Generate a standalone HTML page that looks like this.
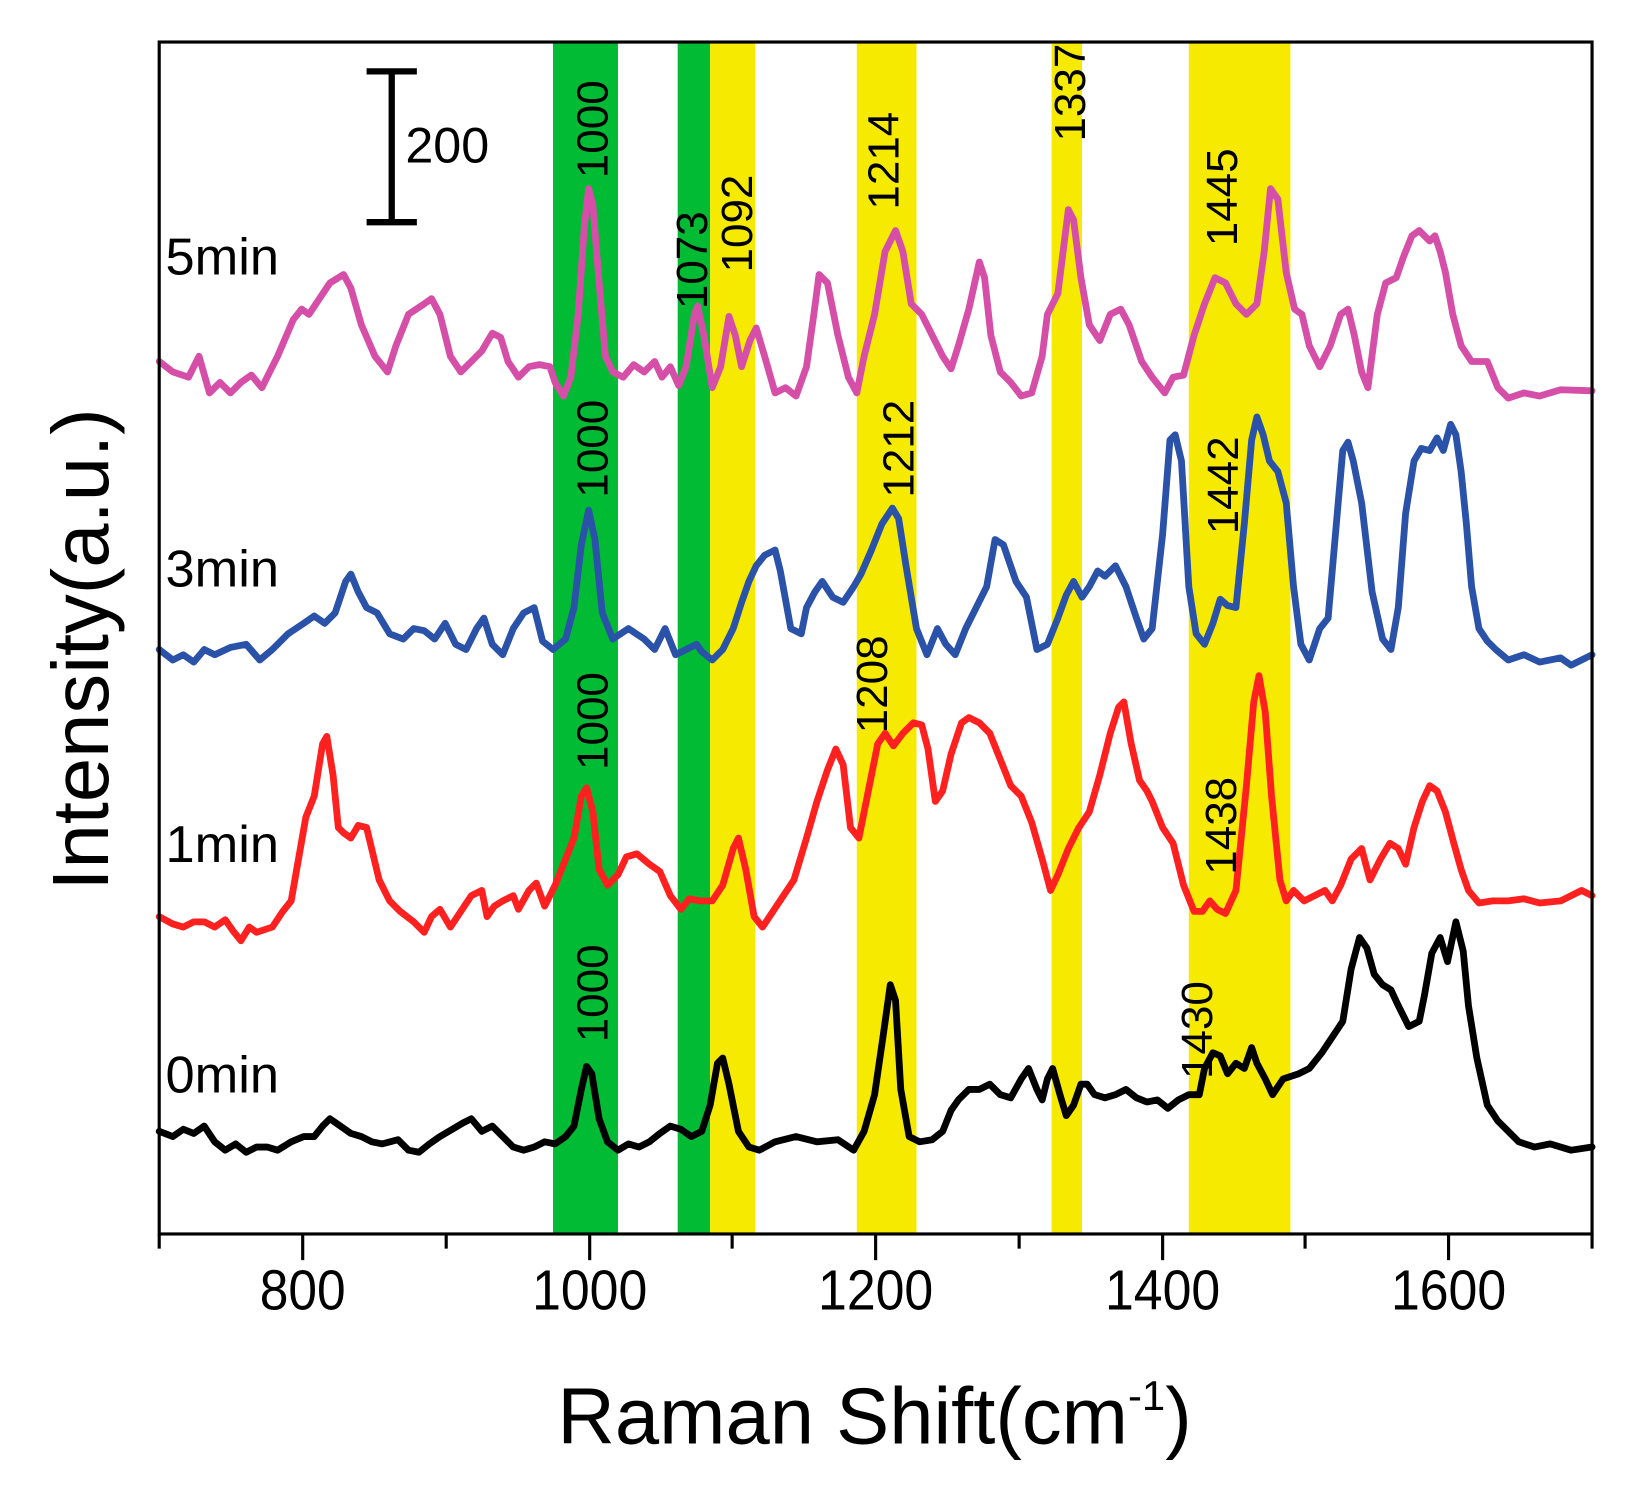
<!DOCTYPE html>
<html><head><meta charset="utf-8"><style>html,body{margin:0;padding:0;background:#fff}svg{display:block}</style></head>
<body>
<svg width="1635" height="1497" viewBox="0 0 1561 1429" xmlns="http://www.w3.org/2000/svg" font-family="Liberation Sans, Arial, sans-serif">
<rect width="1561" height="1429" fill="#fff"/>
<!-- bands -->
<rect x="528" y="40" width="62" height="1138" fill="#00bb33"/>
<rect x="647" y="40" width="31" height="1138" fill="#00bb33"/>
<rect x="678" y="40" width="43" height="1138" fill="#f5ea00"/>
<rect x="818" y="40" width="57" height="1138" fill="#f5ea00"/>
<rect x="1004" y="40" width="29" height="1138" fill="#f5ea00"/>
<rect x="1135" y="40" width="97" height="1138" fill="#f5ea00"/>
<g fill="none" stroke-width="6.5" stroke-linejoin="round" stroke-linecap="round">
<polyline stroke="#d54fa8" points="152,345 165,355 180,360 190,340 200,375 210,365 220,375 230,365 240,358 250,370 265,340 280,305 288,295 295,300 305,285 315,270 328,262 335,275 345,310 358,340 370,355 378,330 390,300 405,290 412,285 420,300 430,340 440,355 450,345 460,335 470,318 478,322 485,345 495,360 505,350 515,348 525,350 530,365 538,378 545,360 552,300 558,215 562,180 566,195 572,270 578,340 585,355 595,360 605,348 615,355 625,345 632,360 640,350 648,368 655,350 663,300 666,292 672,320 680,370 688,350 696,302 702,320 708,350 716,325 722,313 730,340 740,375 750,370 760,378 770,350 777,300 782,262 790,270 800,320 810,360 818,375 825,340 835,300 845,240 855,220 862,240 870,290 880,300 890,320 900,340 908,352 915,330 925,295 935,250 940,265 946,320 955,355 965,365 975,378 985,375 995,340 1000,300 1010,280 1020,200 1025,210 1032,265 1040,310 1050,325 1060,300 1070,295 1078,310 1090,345 1100,360 1112,375 1120,360 1130,358 1140,320 1150,290 1160,265 1170,270 1180,290 1190,300 1200,290 1207,240 1213,180 1220,190 1228,260 1236,295 1243,300 1250,330 1260,350 1270,330 1280,300 1287,295 1293,320 1300,355 1306,370 1315,300 1323,270 1333,265 1340,245 1348,225 1355,220 1365,230 1370,225 1375,240 1380,260 1387,300 1395,330 1405,345 1420,345 1430,370 1440,380 1455,375 1470,378 1490,372 1520,373"/>
<polyline stroke="#2a52a8" points="152,620 165,630 175,625 185,632 195,620 205,625 220,618 235,615 248,630 260,620 275,605 290,595 300,588 310,595 320,585 330,555 335,548 342,565 350,580 360,585 372,605 385,610 395,600 405,602 415,610 425,595 435,615 445,620 455,600 462,590 470,615 480,625 490,600 500,585 510,580 518,612 528,620 540,610 548,580 555,520 562,487 568,515 575,585 585,610 600,600 615,610 625,620 635,600 645,625 655,620 665,615 670,622 680,630 690,620 700,600 708,575 715,555 722,540 730,530 740,525 745,545 755,600 765,605 770,580 778,565 785,555 795,570 805,575 815,560 822,548 832,525 842,500 852,485 858,495 865,540 875,600 885,625 895,600 903,615 912,625 922,600 932,580 942,560 950,515 958,520 970,555 980,570 990,620 1000,615 1010,590 1018,568 1025,555 1033,570 1040,560 1048,545 1055,550 1065,540 1075,560 1085,590 1092,610 1100,600 1110,510 1117,420 1122,415 1128,440 1135,560 1142,605 1150,615 1158,595 1165,572 1172,578 1180,580 1188,500 1195,420 1200,398 1206,415 1212,440 1220,450 1228,480 1235,560 1242,615 1250,630 1260,600 1268,590 1275,510 1282,430 1287,422 1292,440 1300,480 1310,565 1320,610 1328,620 1335,580 1342,490 1350,440 1357,428 1365,430 1372,418 1378,430 1385,405 1390,415 1395,450 1400,500 1405,560 1412,600 1420,612 1428,620 1440,630 1455,625 1470,632 1490,628 1500,635 1520,625"/>
<polyline stroke="#ff2020" points="152,875 165,882 175,885 185,880 195,880 205,885 215,878 222,888 230,898 238,885 245,890 260,885 270,870 278,860 285,820 292,780 300,760 308,710 312,703 318,740 323,790 328,795 335,800 342,788 350,790 356,815 362,840 372,860 382,870 395,880 405,890 412,875 420,868 430,885 440,870 450,855 460,850 465,875 472,865 480,860 490,855 495,868 505,850 512,843 520,865 530,845 540,820 548,800 555,760 560,752 566,775 572,830 580,845 590,835 598,818 608,815 620,825 630,832 640,855 650,868 658,858 668,860 680,860 690,845 700,810 705,800 712,830 720,875 728,885 738,870 748,855 758,840 770,800 780,765 790,735 798,715 805,730 812,790 820,800 828,760 838,710 845,700 853,712 862,700 872,690 880,692 886,715 893,765 900,755 908,720 918,690 925,685 935,690 945,700 955,725 965,750 975,760 985,785 995,820 1003,850 1010,835 1020,810 1030,790 1040,775 1050,740 1060,700 1068,675 1073,670 1080,710 1088,745 1095,755 1100,765 1110,790 1120,805 1130,845 1140,870 1148,870 1155,860 1162,868 1170,872 1180,850 1190,750 1197,670 1202,645 1208,680 1214,760 1222,840 1228,860 1235,850 1245,860 1255,855 1265,850 1272,860 1280,845 1290,820 1300,810 1308,840 1318,820 1327,805 1335,810 1342,825 1350,790 1358,765 1365,750 1372,755 1380,775 1388,805 1395,830 1402,850 1412,862 1425,860 1440,860 1455,858 1470,862 1490,860 1510,850 1520,855"/>
<polyline stroke="#000" points="152,1080 165,1085 175,1078 185,1082 195,1075 205,1090 215,1098 225,1092 235,1100 245,1095 255,1095 265,1098 278,1090 290,1085 300,1085 308,1075 315,1068 325,1075 335,1082 345,1085 355,1090 365,1092 380,1088 390,1098 400,1100 410,1092 420,1085 432,1078 442,1072 450,1068 460,1080 470,1075 480,1085 490,1095 500,1098 510,1095 520,1090 530,1092 540,1085 548,1075 555,1040 560,1018 565,1025 572,1068 580,1090 590,1098 600,1092 610,1095 620,1090 630,1082 640,1075 650,1078 660,1085 670,1080 678,1055 685,1015 690,1010 696,1035 705,1080 715,1095 725,1098 740,1090 760,1085 780,1090 800,1088 815,1098 825,1080 835,1045 843,990 850,940 855,955 860,1040 868,1085 878,1090 890,1088 900,1080 908,1060 915,1050 925,1040 935,1040 945,1035 955,1045 965,1048 975,1030 982,1020 990,1040 995,1050 1000,1030 1005,1020 1012,1045 1018,1065 1025,1055 1032,1035 1038,1035 1045,1045 1055,1048 1065,1045 1075,1040 1085,1048 1095,1052 1105,1050 1115,1058 1125,1050 1135,1045 1145,1045 1150,1020 1158,1005 1165,1008 1172,1025 1180,1015 1188,1020 1195,1000 1200,1015 1208,1030 1215,1045 1225,1030 1240,1025 1250,1020 1262,1005 1272,990 1282,975 1290,925 1298,895 1305,905 1312,930 1320,940 1328,945 1335,960 1345,980 1355,975 1360,950 1367,910 1375,895 1382,918 1390,880 1397,908 1402,960 1410,1010 1420,1055 1430,1070 1440,1080 1450,1090 1465,1095 1480,1092 1500,1098 1520,1095"/>
</g>
<!-- axes -->
<rect x="152" y="40" width="1368" height="1138" fill="none" stroke="#000" stroke-width="3"/>
<g stroke="#000" stroke-width="3">
<line x1="289" y1="1178" x2="289" y2="1203"/><line x1="563" y1="1178" x2="563" y2="1203"/><line x1="836" y1="1178" x2="836" y2="1203"/><line x1="1110" y1="1178" x2="1110" y2="1203"/><line x1="1383" y1="1178" x2="1383" y2="1203"/>
<line x1="152" y1="1178" x2="152" y2="1192"/><line x1="426" y1="1178" x2="426" y2="1192"/><line x1="699" y1="1178" x2="699" y2="1192"/><line x1="973" y1="1178" x2="973" y2="1192"/><line x1="1246" y1="1178" x2="1246" y2="1192"/><line x1="1520" y1="1178" x2="1520" y2="1192"/>
</g>
<g font-size="54" text-anchor="middle" fill="#000">
<text x="289" y="1250" textLength="82" lengthAdjust="spacingAndGlyphs">800</text><text x="563" y="1250" textLength="110" lengthAdjust="spacingAndGlyphs">1000</text><text x="836" y="1250" textLength="110" lengthAdjust="spacingAndGlyphs">1200</text><text x="1110" y="1250" textLength="110" lengthAdjust="spacingAndGlyphs">1400</text><text x="1383" y="1250" textLength="110" lengthAdjust="spacingAndGlyphs">1600</text>
</g>
<text x="835" y="1378" font-size="76" text-anchor="middle">Raman Shift(cm<tspan dy="-32" font-size="40">-1</tspan><tspan dy="32">)</tspan></text>
<text transform="translate(103,620) rotate(-90)" font-size="76" text-anchor="middle">Intensity(a.u.)</text>
<!-- scale bar -->
<g stroke="#000" stroke-width="6"><line x1="374" y1="68" x2="374" y2="212"/><line x1="350" y1="68" x2="398" y2="68"/><line x1="350" y1="212" x2="398" y2="212"/></g>
<text x="387" y="155" font-size="48">200</text>
<g font-size="50"><text x="158" y="262">5min</text><text x="158" y="560">3min</text><text x="158" y="823">1min</text><text x="158" y="1043">0min</text></g>
<g font-size="42">
<text transform="translate(580,170) rotate(-90)">1000</text>
<text transform="translate(675,295) rotate(-90)">1073</text>
<text transform="translate(718,260) rotate(-90)">1092</text>
<text transform="translate(858,200) rotate(-90)">1214</text>
<text transform="translate(1036,135) rotate(-90)">1337</text>
<text transform="translate(1181,235) rotate(-90)">1445</text>
<text transform="translate(580,475) rotate(-90)">1000</text>
<text transform="translate(872,475) rotate(-90)">1212</text>
<text transform="translate(1182,510) rotate(-90)">1442</text>
<text transform="translate(580,735) rotate(-90)">1000</text>
<text transform="translate(847,700) rotate(-90)">1208</text>
<text transform="translate(1180,835) rotate(-90)">1438</text>
<text transform="translate(580,995) rotate(-90)">1000</text>
<text transform="translate(1157,1030) rotate(-90)">1430</text>
</g>
</svg>
</body></html>
